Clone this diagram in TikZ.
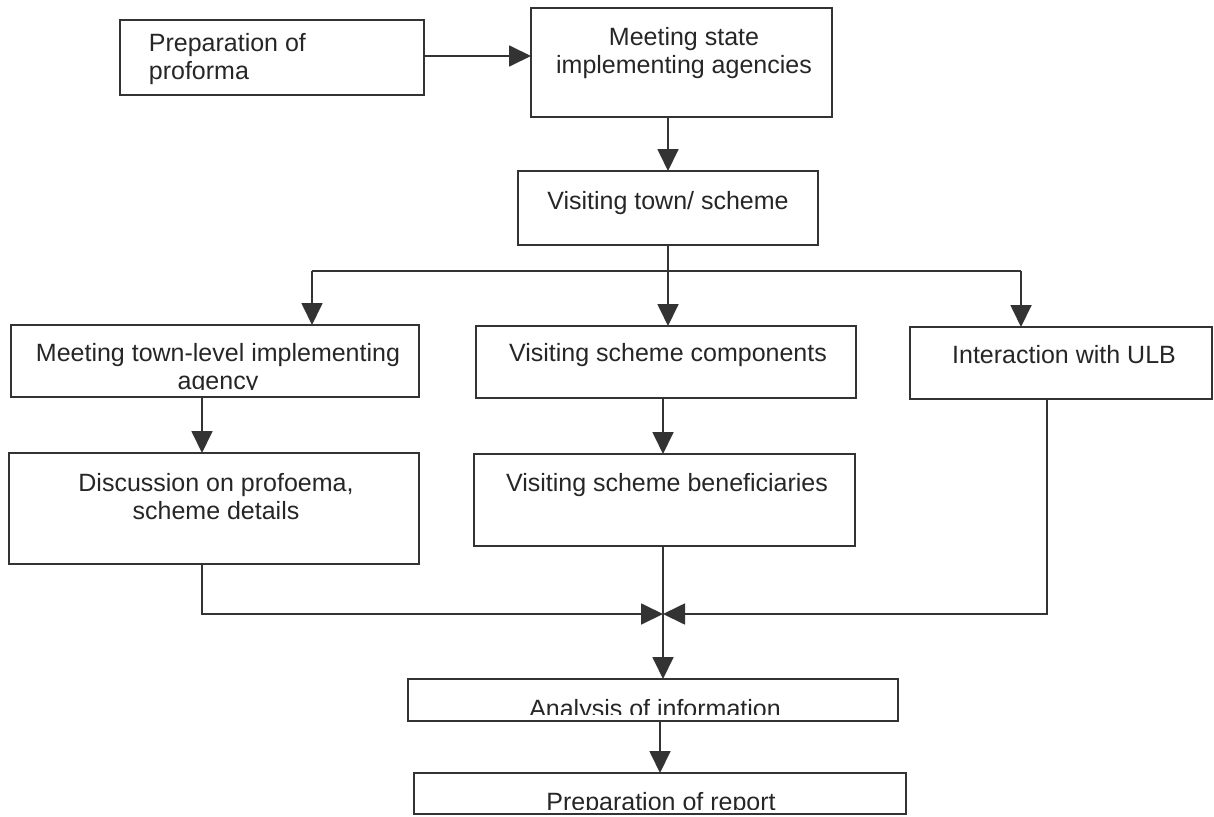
\documentclass[tikz,border=0pt]{standalone}
\usepackage{fontspec}
\setmainfont{Liberation Sans}
\usetikzlibrary{arrows.meta}

\begin{document}
\begin{tikzpicture}[x=1pt, y=-1pt, line width=1.8pt, draw=black!80,
    box/.style={draw=black!80, rectangle, inner sep=0pt, outer sep=0pt},
    txt/.style={inner sep=0pt, anchor=north, align=center, text=black!85,
      font=\fontsize{25}{28}\selectfont},
    arr/.style={-{Triangle[length=22pt, width=21pt]}, black!80}]
      \useasboundingbox (0,0) rectangle (1214,816);
      \node[box, minimum width=304pt, minimum height=75pt] (prep) at (272,57.5) {};
      \node[box, minimum width=301pt, minimum height=109pt] (meet) at (681.5,62.5) {};
      \node[box, minimum width=300pt, minimum height=74pt] (visit) at (668,208) {};
      \node[box, minimum width=408pt, minimum height=72pt] (mtl) at (215,361) {};
      \node[box, minimum width=380pt, minimum height=72pt] (comp) at (666,362) {};
      \node[box, minimum width=302pt, minimum height=72pt] (ulb) at (1061,363) {};
      \node[box, minimum width=410pt, minimum height=111pt] (disc) at (214,508.5) {};
      \node[box, minimum width=381pt, minimum height=92pt] (benef) at (664.5,500) {};
      \node[box, minimum width=490pt, minimum height=42pt] (ana) at (653,700) {};
      \node[box, minimum width=492pt, minimum height=41pt] (rep) at (660,793.5) {};

      \node[txt, anchor=north west, align=left] (t-prep) at (148,32) {Preparation of\\proforma};
      \node[txt] (t-meet) at (684,26) {Meeting state\\implementing agencies};
      \node[txt] (t-visit) at (668,190) {Visiting town/ scheme};
      \begin{scope}
        \clip (mtl.north west) rectangle (mtl.east |- 0,389);
        \node[txt] (t-mtl) at (218,342) {Meeting town-level implementing\\agency};
      \end{scope}
      \node[txt] (t-comp) at (668,342) {Visiting scheme components};
      \node[txt] (t-ulb) at (1064,344) {Interaction with ULB};
      \node[txt] (t-disc) at (216,472) {Discussion on profoema,\\scheme details};
      \node[txt] (t-benef) at (667,472) {Visiting scheme beneficiaries};
      \begin{scope}
        \clip (ana.north west) rectangle (ana.east |- 0,714);
        \node[txt] (t-ana) at (655,698) {Analysis of information};
      \end{scope}
      \begin{scope}
        \clip (rep.north west) rectangle (rep.east |- 0,809);
        \node[txt] (t-rep) at (661,791) {Preparation of report};
      \end{scope}

      \coordinate (forkL) at (312,271);
      \coordinate (forkR) at (1021,271);
      \coordinate (dL) at (202,614);
      \coordinate (dR) at (1047,614);
      \coordinate (join) at (663,614);

      \draw[arr] (prep.east |- 0,56) -- (meet.west |- 0,56);
      \draw[arr] (visit.north |- meet.south) -- (visit.north);
      \draw[arr] (visit.south) -- (visit.south |- comp.north);
      \draw (forkL) -- (forkR);
      \draw[arr] (forkL) -- (forkL |- mtl.north);
      \draw[arr] (forkR) -- (forkR |- ulb.north);
      \draw[arr] (dL |- mtl.south) -- (dL |- disc.north);
      \draw[arr] (join |- comp.south) -- (join |- benef.north);
      \draw[arr] (dL |- disc.south) -- (dL) -- (join);
      \draw[arr] (dR |- ulb.south) -- (dR) -- (join);
      \draw[arr] (join |- benef.south) -- (join |- ana.north);
      \draw[arr] (rep.north |- ana.south) -- (rep.north);
    \end{tikzpicture}
\end{document}
